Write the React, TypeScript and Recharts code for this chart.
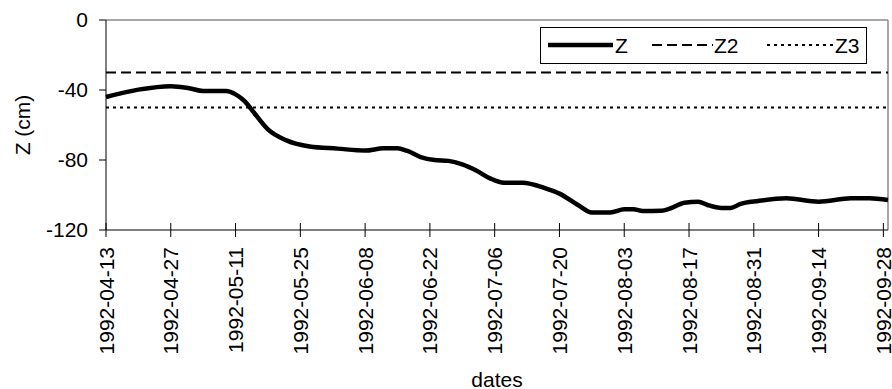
import { LineChart, Line, XAxis, YAxis, Legend, ReferenceLine } from "recharts";

// depth readings (cm)
const zDates = [
  "1992-04-13", "1992-04-20", "1992-04-27", "1992-05-01", "1992-05-04", "1992-05-09",
  "1992-05-11", "1992-05-13", "1992-05-15", "1992-05-18", "1992-05-22", "1992-05-27",
  "1992-06-02", "1992-06-08", "1992-06-12", "1992-06-15", "1992-06-17", "1992-06-20",
  "1992-06-23", "1992-06-26", "1992-06-29", "1992-07-02", "1992-07-05", "1992-07-08",
  "1992-07-12", "1992-07-17", "1992-07-20", "1992-07-24", "1992-07-27", "1992-07-31",
  "1992-08-03", "1992-08-05", "1992-08-07", "1992-08-11", "1992-08-13", "1992-08-16",
  "1992-08-19", "1992-08-21", "1992-08-24", "1992-08-26", "1992-08-28", "1992-09-01",
  "1992-09-07", "1992-09-14", "1992-09-21", "1992-09-25", "1992-09-29",
];
const zValues = [
  -44, -39.8, -37.8, -39, -40.6, -40.6,
  -42.5, -46.5, -53, -62.5, -68.8, -72.3,
  -73.5, -74.6, -73.3, -73.3, -74.7, -78.3,
  -80, -80.5, -82.5, -86, -90.5, -93,
  -93, -96.2, -99.2, -105.7, -110, -110,
  -108.2, -108.2, -109.1, -109, -107.6, -104.4,
  -103.8, -105.7, -107.4, -107.4, -105.2, -103.4,
  -101.9, -103.8, -101.9, -101.9, -102.9,
];
const z2Level = -30;
const z3Level = -50;
const rangeDates = ["1992-04-13", "1992-09-29"];

const tickDates = [
  "1992-04-13", "1992-04-27", "1992-05-11", "1992-05-25", "1992-06-08", "1992-06-22",
  "1992-07-06", "1992-07-20", "1992-08-03", "1992-08-17", "1992-08-31", "1992-09-14",
  "1992-09-28",
];
const yTicks = [-120, -80, -40, 0];

const FONT = "Arial, 'Liberation Sans', sans-serif";
const DAY = 24 * 3600 * 1000;
const start = Date.parse(rangeDates[0]);
const toDay = (d: string) => Math.round((Date.parse(d) - start) / DAY);

const zData = zDates.map((d, i) => ({ day: toDay(d), z: zValues[i] }));
const z2Data = rangeDates.map((d) => ({ day: toDay(d), z2: z2Level }));
const z3Data = rangeDates.map((d) => ({ day: toDay(d), z3: z3Level }));
const xTicks = tickDates.map(toDay);
const xMax = toDay(rangeDates[1]);

const DateTick = (props: any) => {
  const { x, y, payload } = props;
  const label = tickDates[xTicks.indexOf(payload.value)];
  const ty = y + 17;
  return (
    <g>
      <line x1={x} x2={x} y1={y - 7} y2={y + 7} stroke="#000" />
      <text
        x={x}
        y={ty}
        dy="0.36em"
        transform={`rotate(-90 ${x} ${ty})`}
        textAnchor="end"
        fontSize={21}
        fontFamily={FONT}
        fill="#000"
      >
        {label}
      </text>
    </g>
  );
};

const LegendBox = () => (
  <svg width={328} height={38} style={{ display: "block" }}>
    <rect x={0.5} y={0.5} width={326} height={36} fill="#fff" stroke="#000" />
    <line x1={8} x2={73} y1={18} y2={18} stroke="#000" strokeWidth={4.5} />
    <text x={75} y={18} dy="0.36em" fontSize={21} fontFamily={FONT}>Z</text>
    <line x1={112} x2={173} y1={18} y2={18} stroke="#000" strokeWidth={2} strokeDasharray="10 5" />
    <text x={174} y={18} dy="0.36em" fontSize={21} fontFamily={FONT}>Z2</text>
    <line x1={227} x2={293} y1={18} y2={18} stroke="#000" strokeWidth={2} strokeDasharray="3 4" />
    <text x={295} y={18} dy="0.36em" fontSize={21} fontFamily={FONT}>Z3</text>
  </svg>
);

export default function App() {
  return (
    <div style={{ position: "absolute", left: 0, top: 0, background: "#fff" }}>
      <LineChart width={892} height={389} margin={{ top: 20, right: 4, bottom: 0, left: 0 }}>
        <XAxis
          dataKey="day"
          type="number"
          domain={[0, xMax]}
          ticks={xTicks}
          interval={0}
          height={159}
          tickSize={0}
          tickMargin={0}
          tickLine={false}
          tick={<DateTick />}
          axisLine={{ stroke: "#000" }}
          label={{
            content: ({ viewBox }: any) => (
              <text
                x={viewBox.x + viewBox.width / 2}
                y={viewBox.y + viewBox.height - 2}
                textAnchor="middle"
                fontSize={21}
                fontFamily={FONT}
                fill="#000"
              >
                dates
              </text>
            ),
          }}
        />
        <YAxis
          type="number"
          domain={[-120, 0]}
          ticks={yTicks}
          interval={0}
          width={106}
          tickSize={7}
          tickMargin={11}
          axisLine={{ stroke: "#000" }}
          tickLine={{ stroke: "#000" }}
          tick={{ fontSize: 21, fontFamily: FONT, fill: "#000" }}
          label={{
            content: ({ viewBox }: any) => {
              const cx = 22;
              const cy = viewBox.y + viewBox.height / 2;
              return (
                <text
                  x={cx}
                  y={cy}
                  dy="0.36em"
                  transform={`rotate(-90 ${cx} ${cy})`}
                  textAnchor="middle"
                  fontSize={21}
                  fontFamily={FONT}
                  fill="#000"
                >
                  Z (cm)
                </text>
              );
            },
          }}
        />
        <ReferenceLine y={0} stroke="#8a8a8a" strokeWidth={1.5} />
        <ReferenceLine x={xMax} stroke="#8a8a8a" strokeWidth={1.5} />
        <Line data={z2Data} dataKey="z2" name="Z2" stroke="#000" strokeWidth={2} strokeDasharray="10 5" dot={false} isAnimationActive={false} />
        <Line data={z3Data} dataKey="z3" name="Z3" stroke="#000" strokeWidth={2} strokeDasharray="3 4" dot={false} isAnimationActive={false} />
        <Line data={zData} dataKey="z" name="Z" type="monotone" stroke="#000" strokeWidth={4.5} dot={false} isAnimationActive={false} />
        <Legend
          layout="vertical"
          align="center"
          verticalAlign="middle"
          content={<LegendBox />}
          wrapperStyle={{ left: 540, top: 27, width: 328, height: 38 }}
        />
      </LineChart>
    </div>
  );
}
